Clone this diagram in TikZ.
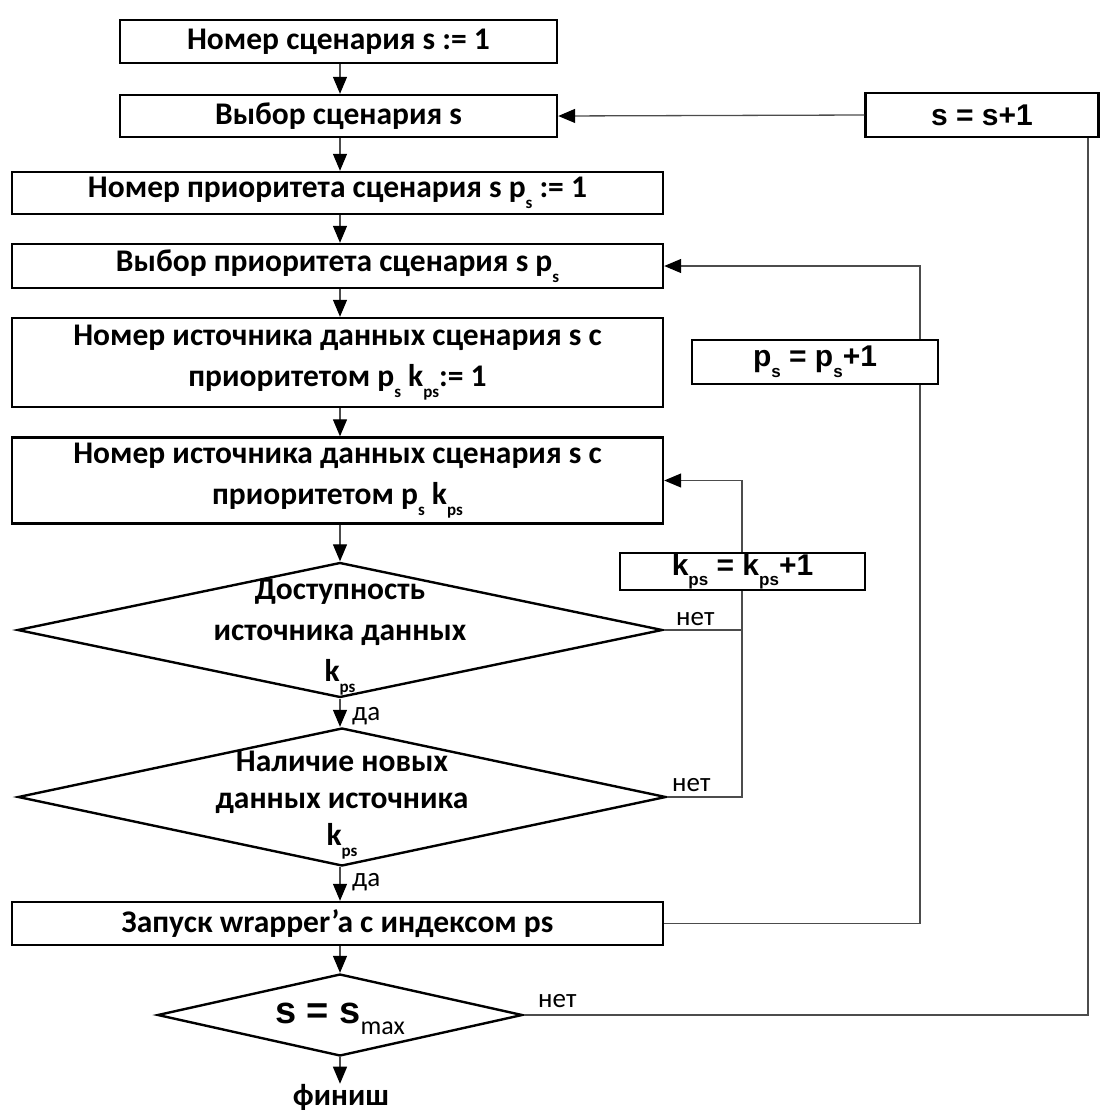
\documentclass[tikz,border=0pt]{standalone}
\usepackage{fontspec}
\setmainfont{Carlito}
\newfontfamily\arialf{Liberation Sans}
\usetikzlibrary{shapes.geometric,arrows.meta}
\newcommand{\lowsub}[1]{\raisebox{-0.35em}{\fontsize{17}{17}\selectfont #1}}
\tikzset{
  box/.style={draw=black, line width=2.4pt, rectangle, inner sep=0pt, align=center,
    font=\fontsize{31.5}{41}\selectfont\bfseries},
  incbox/.style={draw=black, line width=2.4pt, rectangle, inner sep=0pt, align=center,
    font=\fontsize{30}{34}\selectfont\arialf\bfseries},
  dia/.style={draw=black, line width=2.4pt, diamond, inner sep=0pt},
  dtext/.style={align=center, inner sep=0pt, font=\fontsize{31.5}{41}\selectfont\bfseries},
  conn/.style={draw=black!70, line width=1.3pt},
  arr/.style={conn, -{Triangle[length=17pt,width=14pt,fill=black,color=black]}},
  lbl/.style={inner sep=0pt, font=\fontsize{27}{30}\selectfont},
}
\begin{document}
\begin{tikzpicture}[x=1pt,y=-1pt]
\useasboundingbox (0,0) rectangle (1100,1111);
\coordinate (ax) at (340,0);
% main column
\node[box, minimum width=437pt, minimum height=43pt] (b1) at (338.5,41.5) {Номер сценария s := 1};
\node[box, minimum width=437pt, minimum height=42pt] (b2) at (338.5,116) {Выбор сценария s};
\node[box, minimum width=651pt, minimum height=42pt] (b3) at (337.5,193) {Номер приоритета сценария s p\lowsub{s} := 1};
\node[box, minimum width=651pt, minimum height=44pt] (b4) at (337.5,266) {Выбор приоритета сценария s p\lowsub{s}};
\node[box, minimum width=651pt, minimum height=89pt] (b5) at (337.5,362.5) {Номер источника данных сценария s с\\приоритетом p\lowsub{s} k\lowsub{ps}:= 1};
\node[box, minimum width=651pt, minimum height=86pt] (b6) at (337.5,480.5) {Номер источника данных сценария s с\\приоритетом p\lowsub{s} k\lowsub{ps}};
\node[dia, minimum width=645pt, minimum height=135pt] (d1) at (340,630) {};
\node[dtext] (d1t) at (340,637) {Доступность\\источника данных\\k\lowsub{ps}};
\node[dia, minimum width=648pt, minimum height=138pt] (d2) at (342,797) {};
\node[dtext, font=\fontsize{31.5}{37}\selectfont\bfseries] (d2t) at (342,805) {Наличие новых\\данных источника\\k\lowsub{ps}};
\node[box, minimum width=651pt, minimum height=43pt] (b7) at (337.5,923.5) {Запуск wrapper’a с индексом ps};
\node[dia, minimum width=365pt, minimum height=82pt] (d3) at (340,1015) {};
\node[inner sep=0pt, font=\fontsize{38}{40}\selectfont\arialf\bfseries] (d3t) at (340,1019) {s = s\raisebox{-0.3em}{\fontsize{26}{26}\selectfont\normalfont max}};
\node[inner sep=0pt, font=\fontsize{31}{32}\selectfont\bfseries] (fin) at (341,1097) {финиш};
% increment boxes
\node[incbox, minimum width=233pt, minimum height=44pt] (i1) at (982,115) {s = s+1};
\node[incbox, minimum width=246pt, minimum height=44pt] (i2) at (815,362) {p\lowsub{s} = p\lowsub{s}+1};
\node[incbox, minimum width=245pt, minimum height=37pt] (i3) at (742.5,571.5) {k\lowsub{ps} = k\lowsub{ps}+1};
\coordinate (r1) at (1088,0);
\coordinate (r2) at (920,0);
\coordinate (r3) at (742,0);
% main arrows
\draw[arr] (b1.south -| ax) -- (b2.north -| ax);
\draw[arr] (b2.south -| ax) -- (b3.north -| ax);
\draw[arr] (b3.south -| ax) -- (b4.north -| ax);
\draw[arr] (b4.south -| ax) -- (b5.north -| ax);
\draw[arr] (b5.south -| ax) -- (b6.north -| ax);
\draw[arr] (b6.south -| ax) -- (d1.north);
\draw[arr] (d1.south) -- (d2.north -| ax);
\draw[arr] (d2.south -| ax) -- (b7.north -| ax);
\draw[arr] (b7.south -| ax) -- (d3.north);
\draw[arr] (d3.south) -- (fin.north -| ax);
% loops
\draw[arr] (i1.west) -- (b2.east);
\draw[conn] (d3.east) -| (i1.south -| r1);
\draw[arr] (i2.north -| r2) |- (b4.east);
\draw[conn] (b7.east) -| (i2.south -| r2);
\draw[arr] (i3.north -| r3) |- (b6.east);
\draw[conn] (d1.east) -| (i3.south -| r3);
\draw[conn] (d2.east) -| (i3.south -| r3);
% labels
\node[lbl, anchor=south west] (n1) at (676,626) {нет};
\node[lbl, anchor=south west] (n2) at (672,792) {нет};
\node[lbl, anchor=south west] (n3) at (538,1008) {нет};
\node[lbl, anchor=west] (y1) at (352,716) {да};
\node[lbl, anchor=west] (y2) at (352,882) {да};
\end{tikzpicture}
\end{document}
